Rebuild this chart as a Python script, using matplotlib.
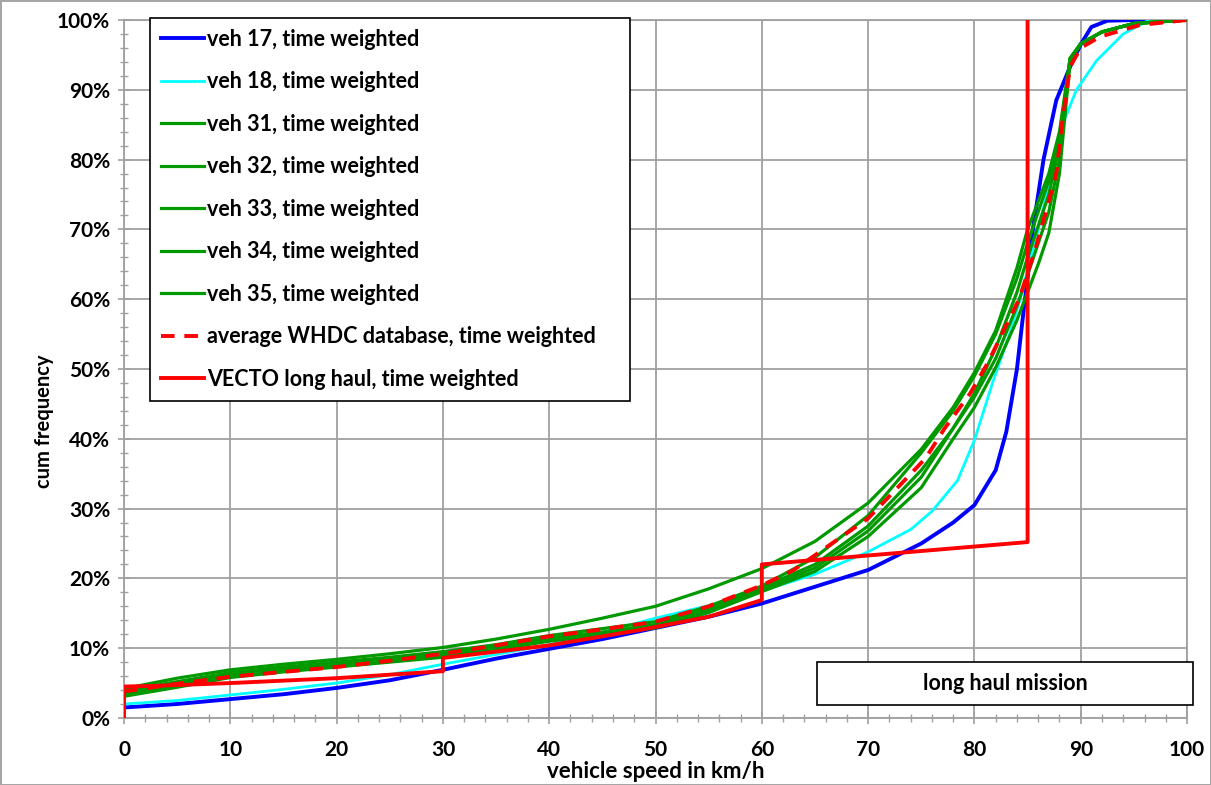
import numpy as np
import matplotlib
matplotlib.use('Agg')
import matplotlib.pyplot as plt
from matplotlib.ticker import MultipleLocator, FuncFormatter
from matplotlib.patches import Rectangle

plt.rcParams['font.family'] = ['Lato', 'DejaVu Sans']
plt.rcParams['font.weight'] = 'bold'

# speed grid shared by the measured green curves (km/h)
speed = [0, 5, 10, 15, 20, 25, 30, 35, 40, 45, 50, 55, 60, 65, 70, 75, 78, 80,
         82, 84, 85, 86, 87, 88, 89, 90, 92, 95, 100]

# cum frequency in %
veh17_x = [0, 5, 10, 15, 20, 25, 30, 35, 40, 45, 50, 55, 60, 65, 70, 75, 78, 80,
           82, 83, 84, 84.6, 85, 85.5, 86.5, 87.7, 89, 90, 91, 92.5, 95, 100]
veh17_y = [1.5, 2.0, 2.7, 3.4, 4.3, 5.4, 6.9, 8.5, 9.9, 11.3, 12.9, 14.5, 16.4, 18.8,
           21.2, 25.0, 28.0, 30.5, 35.5, 41.0, 50.0, 58.0, 63.0, 70.0, 80.0, 88.5,
           93.3, 96.5, 99.0, 99.9, 100, 100]

veh18_x = [0, 5, 10, 15, 20, 25, 30, 35, 40, 45, 50, 55, 60, 65, 70, 74, 76, 78.4,
           80, 81.7, 83.3, 84.3, 86, 87.6, 88.2, 89.6, 91.5, 94, 96.2, 100]
veh18_y = [2.0, 2.5, 3.3, 4.1, 5.0, 6.2, 7.7, 9.1, 10.5, 12.3, 14.3, 16.1, 18.2, 20.6,
           23.8, 27.0, 29.6, 34.0, 39.8, 48.0, 55.0, 60.0, 70.0, 80.0, 84.7, 90.0,
           94.2, 98.0, 99.8, 100]

veh31 = [4.2, 5.7, 6.9, 7.7, 8.4, 9.2, 10.1, 11.3, 12.7, 14.3, 16.0, 18.5, 21.4, 25.3,
         30.8, 38.5, 44.5, 49.5, 55.5, 64.5, 70.0, 74.0, 78.0, 84.0, 94.5, 96.6, 98.3, 99.5, 100]
veh32 = [3.9, 5.2, 6.5, 7.3, 8.0, 8.7, 9.5, 10.5, 11.8, 12.8, 13.8, 16.0, 18.9, 23.0,
         29.0, 38.0, 44.0, 49.0, 55.0, 63.0, 68.0, 72.5, 77.0, 83.0, 94.5, 96.6, 98.3, 99.5, 100]
veh33 = [3.6, 4.9, 6.2, 7.0, 7.8, 8.5, 9.2, 10.2, 11.5, 12.3, 13.4, 15.7, 18.7, 22.0,
         27.5, 35.5, 41.5, 46.5, 53.0, 61.0, 66.0, 70.5, 75.0, 82.0, 94.5, 96.6, 98.3, 99.5, 100]
veh34 = [3.3, 4.6, 6.0, 6.8, 7.6, 8.3, 9.0, 10.0, 11.2, 12.1, 13.1, 15.4, 18.4, 21.5,
         26.8, 34.5, 41.5, 46.0, 51.5, 59.0, 63.5, 68.0, 72.5, 80.0, 94.2, 96.6, 98.3, 99.5, 100]
veh35 = [3.1, 4.4, 5.8, 6.6, 7.3, 8.0, 8.7, 9.8, 11.0, 11.9, 12.9, 15.1, 18.1, 21.0,
         26.0, 33.0, 40.0, 44.5, 50.2, 57.0, 61.0, 65.0, 69.5, 78.0, 94.0, 96.6, 98.3, 99.5, 100]

avg_x = [0, 5, 10, 15, 20, 25, 30, 35, 40, 45, 50, 55, 60, 63, 66.4, 70, 72.4, 75.4,
         77.2, 79.6, 81.3, 82.9, 84.2, 85.7, 86.8, 87.7, 88.2, 89, 90, 91.8, 95.6, 100]
avg_y = [3.8, 4.9, 5.9, 6.6, 7.3, 8.2, 9.2, 10.4, 11.7, 12.7, 13.8, 16.0, 19.0, 21.2,
         24.8, 28.6, 32.4, 37.2, 41.5, 46.5, 51.0, 56.0, 60.0, 67.0, 73.0, 78.0, 84.7,
         93.3, 96.0, 97.6, 99.3, 100]

vecto_x = [0, 0, 3, 10, 20, 30, 30, 40, 48.5, 55, 60, 60, 85, 85]
vecto_y = [0, 4.5, 4.6, 5.0, 5.7, 6.7, 8.6, 10.4, 12.6, 14.5, 16.9, 22.0, 25.2, 100]

green_sets = [('veh 31, time weighted', veh31), ('veh 32, time weighted', veh32),
              ('veh 33, time weighted', veh33), ('veh 34, time weighted', veh34),
              ('veh 35, time weighted', veh35)]

fig = plt.figure(figsize=(12.11, 7.85), dpi=100)
fig.patch.set_edgecolor('#a6a6a6')
fig.patch.set_linewidth(2)
ax = fig.add_axes([0.1024, 0.0854, 0.8778, 0.8891])

ax.plot(veh17_x, veh17_y, color='#0000ff', lw=2.8, label='veh 17, time weighted', zorder=3)
ax.plot(veh18_x, veh18_y, color='#00ffff', lw=2.0, label='veh 18, time weighted', zorder=3)
for name, vals in green_sets:
    ax.plot(speed, vals, color='#009900', lw=2.3, label=name, zorder=4)
ax.plot(avg_x, avg_y, color='#ff0000', lw=2.8, dashes=(3.5, 2.5),
        label='average WHDC database, time weighted', zorder=5)
ax.plot(vecto_x, vecto_y, color='#ff0000', lw=2.8, label='VECTO long haul, time weighted', zorder=6)

ax.set_xlim(0, 100)
ax.set_ylim(0, 100)
ax.xaxis.set_major_locator(MultipleLocator(10))
ax.xaxis.set_minor_locator(MultipleLocator(2))
ax.yaxis.set_major_locator(MultipleLocator(10))
ax.yaxis.set_minor_locator(MultipleLocator(2))
ax.yaxis.set_major_formatter(FuncFormatter(lambda v, p: '%d%%' % v))
ax.grid(True, which='major', color='#a0a0a0', lw=1.3)
ax.set_axisbelow(True)
for s in ax.spines.values():
    s.set_color('#a0a0a0')
    s.set_linewidth(1.3)
ax.tick_params(which='both', direction='inout', color='#a0a0a0', labelsize=15)
ax.tick_params(which='major', length=8, width=1.2)
ax.tick_params(which='minor', length=6, width=1.0)
ax.tick_params(axis='x', pad=12)
ax.tick_params(axis='y', pad=6)
for lab in ax.get_xticklabels() + ax.get_yticklabels():
    lab.set_fontweight('bold')

ax.set_xlabel('vehicle speed in km/h', fontsize=16, fontweight='bold')
ax.xaxis.set_label_coords(0.5, -0.0615)
ax.set_ylabel('cum frequency', fontsize=14.5, fontweight='bold')
ax.yaxis.set_label_coords(-0.066, 0.4255)

leg = ax.legend(loc='upper left', bbox_to_anchor=(0.0245, 0.0, 0.4516, 1.003),
                mode='expand', fontsize=15.5,
                frameon=True, fancybox=False, edgecolor='black', framealpha=1,
                handlelength=2.0, handletextpad=0.15, labelspacing=1.0,
                borderpad=0.5, borderaxespad=0)
leg.get_frame().set_linewidth(1.2)
for t in leg.get_texts():
    t.set_fontweight('bold')

fig.patches.append(Rectangle((817 / 1211, 1 - 705 / 785), 376 / 1211, 43 / 785,
                             transform=fig.transFigure, fc='white', ec='black',
                             lw=1.2, zorder=10))
fig.text(1005 / 1211, 1 - 683 / 785, 'long haul mission', ha='center', va='center',
         fontsize=15.5, fontweight='bold', zorder=11)

fig.savefig('out.png', dpi=100)
